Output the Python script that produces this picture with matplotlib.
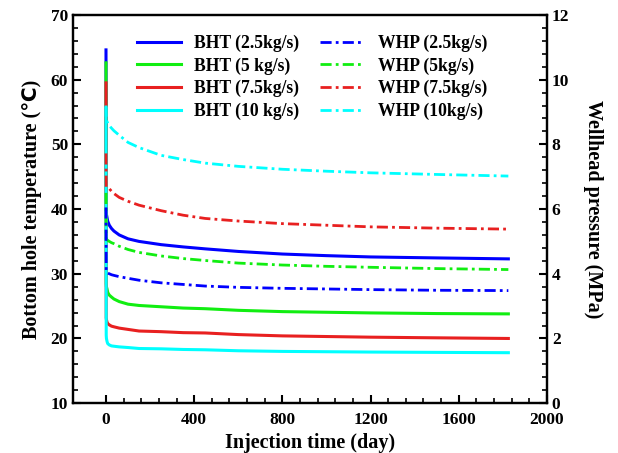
import matplotlib
matplotlib.use('Agg')
import matplotlib.pyplot as plt
import numpy as np

plt.rcParams['font.family'] = ['Liberation Serif', 'DejaVu Sans']
plt.rcParams['font.weight'] = 'bold'

# time (day)
days = [0, 1, 2, 5, 8, 15, 25, 36, 60, 100, 150, 250, 350, 450, 600, 800, 1000, 1200, 1500, 1825]

# bottom hole temperature (C)
bht_25 = [64.6, 39.8, 39.2, 38.6, 38.1, 37.5, 37.0, 36.6, 36.0, 35.4, 35.0, 34.5, 34.15, 33.85,
          33.45, 33.05, 32.8, 32.6, 32.45, 32.3]
bht_5 = [62.6, 28.5, 28.0, 27.6, 27.1, 26.7, 26.4, 26.1, 25.7, 25.3, 25.1, 24.9, 24.7, 24.6,
         24.35, 24.15, 24.05, 23.95, 23.85, 23.8]
bht_75 = [59.5, 23.2, 22.9, 22.5, 22.3, 22.1, 21.9, 21.8, 21.6, 21.4, 21.15, 21.05, 20.9, 20.85,
          20.6, 20.4, 20.3, 20.2, 20.1, 20.0]
bht_10 = [55.6, 20.5, 20.0, 19.5, 19.2, 19.0, 18.85, 18.8, 18.7, 18.6, 18.45, 18.4, 18.3, 18.25,
          18.1, 18.0, 17.95, 17.9, 17.85, 17.8]

# wellhead pressure (MPa)
whp_25 = [6.05, 4.06, 4.05, 4.03, 4.02, 4.0, 3.97, 3.95, 3.91, 3.86, 3.8, 3.72, 3.67, 3.62,
          3.58, 3.55, 3.53, 3.51, 3.49, 3.48]
whp_5 = [6.5, 5.1, 5.08, 5.05, 5.03, 5.0, 4.96, 4.93, 4.85, 4.75, 4.66, 4.55, 4.47, 4.41,
         4.33, 4.27, 4.23, 4.2, 4.16, 4.13]
whp_75 = [7.72, 6.68, 6.68, 6.67, 6.66, 6.63, 6.55, 6.48, 6.36, 6.24, 6.12, 5.95, 5.81, 5.71,
          5.63, 5.55, 5.5, 5.45, 5.41, 5.38]
whp_10 = [9.2, 8.78, 8.75, 8.7, 8.65, 8.58, 8.5, 8.42, 8.28, 8.06, 7.9, 7.66, 7.53, 7.42,
          7.32, 7.23, 7.17, 7.12, 7.07, 7.02]

labels_bht = ['BHT (2.5kg/s)', 'BHT (5 kg/s)', 'BHT (7.5kg/s)', 'BHT (10 kg/s)']
labels_whp = ['WHP (2.5kg/s)', 'WHP (5kg/s)', 'WHP (7.5kg/s)', 'WHP (10kg/s)']
colors = ['#0000ff', '#11ee11', '#e82020', '#00ffff']

fig = plt.figure(figsize=(6.18, 4.53), dpi=100)
ax = fig.add_axes([0.118, 0.110, 0.767, 0.857])
ax2 = ax.twinx()

hb = []
for y, lab, c in zip([bht_25, bht_5, bht_75, bht_10], labels_bht, colors):
    l, = ax.plot(days, y, color=c, lw=2.2, label=lab)
    hb.append(l)

# dash-dot pressure curves, low flow rates drawn on top
hw = []
zs = [5, 4, 3, 2]
for y, lab, c, z in zip([whp_25, whp_5, whp_75, whp_10], labels_whp, colors, zs):
    l, = ax2.plot(days, y, color=c, lw=2.0, label=lab, zorder=z,
                  dashes=(4, 1.5, 1, 1.5))
    hw.append(l)

ax.set_xlim(-150, 2000)
ax.set_ylim(10, 70)
ax2.set_ylim(0, 12)

ax.set_xticks(np.arange(0, 2001, 400))
ax.set_xticks(np.arange(0, 2001, 80), minor=True)
ax.set_yticks(np.arange(10, 71, 10))
ax.set_yticks(np.arange(10, 71, 2), minor=True)
ax2.set_yticks(np.arange(0, 13, 2))
ax2.set_yticks(np.arange(0, 12.01, 0.4), minor=True)

for a in (ax, ax2):
    a.tick_params(which='major', direction='in', length=6, width=1.5, labelsize=12.5)
    a.tick_params(which='minor', direction='in', length=3.5, width=1.2)
    for s in a.spines.values():
        s.set_linewidth(1.6)
    for t in a.get_xticklabels() + a.get_yticklabels():
        t.set_fontweight('bold')
ax.tick_params(axis='x', which='major', pad=6)

ax.set_xlabel('Injection time (day)', fontsize=14.5, fontweight='bold', labelpad=4)
ax.set_ylabel('Bottom hole temperature (℃)', fontsize=14.5, fontweight='bold', labelpad=6)
ax2.set_ylabel('Wellhead pressure (MPa)', fontsize=14.5, fontweight='bold',
               rotation=270, labelpad=24)

handles = hb + hw
ax2.legend(handles, [h.get_label() for h in handles], ncol=2, frameon=False,
           loc='upper left', bbox_to_anchor=(0.102, 0.99),
           handlelength=2.5, columnspacing=1.17, labelspacing=0.3,
           handletextpad=0.75, prop={'weight': 'bold', 'size': 12.7})

fig.savefig('out.png', dpi=100)
